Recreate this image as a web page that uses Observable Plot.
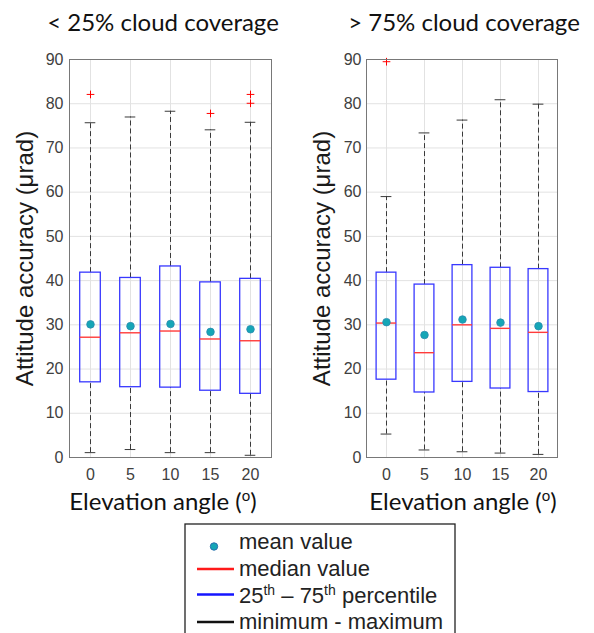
<!DOCTYPE html>
<html>
<head>
<meta charset="utf-8">
<script src="https://cdn.jsdelivr.net/npm/d3@7"></script>
<script src="https://cdn.jsdelivr.net/npm/@observablehq/plot@0.6"></script>
<style>
  body { margin: 0; background: #fff; }
  #wrap { position: relative; width: 594px; height: 633px; overflow: hidden; background: #fff; }
  #left { position: absolute; left: 0; top: 40px; }
  #right { position: absolute; left: 290px; top: 40px; }
  #overlay { position: absolute; left: 0; top: 0; pointer-events: none; }
</style>
</head>
<body>
<div id="wrap">
  <div id="left"></div>
  <div id="right"></div>
  <svg id="overlay" width="594" height="633" xmlns="http://www.w3.org/2000/svg">
    <g font-family="Lato, 'Open Sans', sans-serif" font-size="24" fill="#111" text-anchor="middle">
      <text x="163" y="31">&lt; 25% cloud coverage</text>
      <text x="464" y="31">&gt; 75% cloud coverage</text>
      <text x="163" y="510">Elevation angle (<tspan dy="-9" font-size="15">o</tspan><tspan dy="9">)</tspan></text>
      <text x="463" y="510">Elevation angle (<tspan dy="-9" font-size="15">o</tspan><tspan dy="9">)</tspan></text>
    </g>
    <g id="legend" font-family="'Liberation Sans', Arial, sans-serif" font-size="22" fill="#222">
      <rect x="185" y="524" width="270" height="120" fill="#fff" stroke="#222" stroke-width="1.3"></rect>
      <circle cx="214" cy="546.5" r="3.7" fill="#15a6b6" stroke="#2a6fb0" stroke-width="1"></circle>
      <line x1="197" x2="234" y1="569" y2="569" stroke="#ff1a1a" stroke-width="2.6"></line>
      <line x1="197" x2="234" y1="594.5" y2="594.5" stroke="#1515ff" stroke-width="2.6"></line>
      <line x1="197" x2="234" y1="622" y2="622" stroke="#111" stroke-width="2.6"></line>
      <text x="239" y="549">mean value</text>
      <text x="239" y="576">median value</text>
      <text x="239" y="603">25<tspan dy="-8" font-size="14">th</tspan><tspan dy="8"> – 75</tspan><tspan dy="-8" font-size="14">th</tspan><tspan dy="8"> percentile</tspan></text>
      <text x="239" y="629">minimum - maximum</text>
    </g>
  </svg>
</div>
<script>
// ---- data ----
const angles = [0, 5, 10, 15, 20];
const yTicks = [0, 10, 20, 30, 40, 50, 60, 70, 80, 90];
const yLabel = "Attitude accuracy (μrad)";

// < 25% cloud coverage
const lowMean   = [30.1, 29.7, 30.2, 28.4, 29.0];
const lowMedian = [27.2, 28.2, 28.6, 26.8, 26.4];
const lowQ1     = [17.0, 15.9, 15.8, 15.1, 14.4];
const lowQ3     = [41.8, 40.6, 43.2, 39.6, 40.4];
const lowMin    = [1.1, 1.8, 1.1, 1.1, 0.5];
const lowMax    = [75.7, 77.0, 78.3, 74.1, 75.8];
const lowOutAngle = [0, 15, 20, 20];
const lowOutValue = [82.1, 77.8, 82.1, 80.1];

// > 75% cloud coverage
const highMean   = [30.6, 27.7, 31.2, 30.5, 29.7];
const highMedian = [30.4, 23.7, 30.0, 29.2, 28.3];
const highQ1     = [17.6, 14.7, 17.1, 15.6, 14.8];
const highQ3     = [41.8, 39.1, 43.5, 42.9, 42.6];
const highMin    = [5.3, 1.7, 1.3, 1.0, 0.7];
const highMax    = [59.0, 73.4, 76.3, 80.9, 79.9];
const highOutAngle = [0];
const highOutValue = [89.5];

function panel(d, opts) {
  const rows = angles.map((a, i) => ({
    a, mean: d.mean[i], median: d.median[i], q1: d.q1[i], q3: d.q3[i], min: d.min[i], max: d.max[i]
  }));
  const outs = d.outA.map((a, i) => ({a, v: d.outV[i]}));
  const whisker = {stroke: "#3a3a3a", strokeWidth: 1, strokeDasharray: "5,3"};
  return Plot.plot({
    width: opts.width,
    height: 480,
    marginLeft: opts.marginLeft,
    marginRight: opts.marginRight,
    marginTop: 19,
    marginBottom: 63,
    style: {fontFamily: "'Liberation Sans', Arial, sans-serif", fontSize: "16px", color: "#404040", background: "transparent", overflow: "visible"},
    x: {type: "band", domain: angles, padding: 0},
    y: {domain: [0, 90]},
    marks: [
      Plot.ruleX(angles, {x: (v) => v, stroke: "#e2e2e2", strokeWidth: 1}),
      Plot.ruleY(yTicks, {y: (v) => v, stroke: "#e2e2e2", strokeWidth: 1}),
      Plot.axisX({tickSize: 0, tickPadding: 11, label: null, fill: "#404040"}),
      Plot.axisY({ticks: yTicks, tickSize: 0, tickPadding: opts.tickPad, label: null, fill: "#404040"}),
      Plot.text([yLabel], {frameAnchor: "left", textAnchor: "middle", lineAnchor: "middle", dx: -44, rotate: -90,
        fontSize: 24, fill: "#1a1a1a", fontFamily: "'Liberation Sans', Arial, sans-serif"}),
      Plot.ruleX(rows, {x: "a", y1: "q3", y2: "max", ...whisker}),
      Plot.ruleX(rows, {x: "a", y1: "min", y2: "q1", ...whisker}),
      Plot.tickY(rows, {x: "a", y: "max", insetLeft: opts.capInset, insetRight: opts.capInset, stroke: "#3a3a3a"}),
      Plot.tickY(rows, {x: "a", y: "min", insetLeft: opts.capInset, insetRight: opts.capInset, stroke: "#3a3a3a"}),
      Plot.barY(rows, {x: "a", y1: "q1", y2: "q3", fill: "none", stroke: "#3838ff", strokeWidth: 1.3,
        insetLeft: opts.boxInset, insetRight: opts.boxInset}),
      Plot.tickY(rows, {x: "a", y: "median", stroke: "#ff3b3b", strokeWidth: 1.4,
        insetLeft: opts.boxInset, insetRight: opts.boxInset}),
      Plot.dot(rows, {x: "a", y: "mean", r: 3.8, fill: "#15a6b6", stroke: "#2a8ab0", strokeWidth: 0.8}),
      Plot.dot(outs, {x: "a", y: "v", symbol: "plus", r: 2.6, stroke: "#ff0000", strokeWidth: 1}),
      Plot.frame({stroke: "#787878", strokeWidth: 1})
    ]
  });
}

document.getElementById("left").append(panel(
  {mean: lowMean, median: lowMedian, q1: lowQ1, q3: lowQ3, min: lowMin, max: lowMax, outA: lowOutAngle, outV: lowOutValue},
  {width: 290, marginLeft: 69, marginRight: 19, boxInset: 9.7, capInset: 14.7, tickPad: 6}
));
document.getElementById("right").append(panel(
  {mean: highMean, median: highMedian, q1: highQ1, q3: highQ3, min: highMin, max: highMax, outA: highOutAngle, outV: highOutValue},
  {width: 304, marginLeft: 76, marginRight: 37, boxInset: 9.1, capInset: 13.6, tickPad: 5}
));
</script>
</body>
</html>
